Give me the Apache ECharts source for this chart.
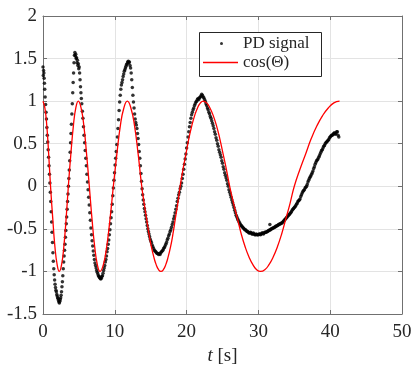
<!DOCTYPE html>
<html>
<head>
<meta charset="utf-8">
<script src="https://cdn.jsdelivr.net/npm/echarts@6/dist/echarts.min.js"></script>
<style>
  html, body { margin: 0; padding: 0; background: #fff; }
  #main { width: 416px; height: 374px; }
</style>
</head>
<body>
<div id="main"></div>
<script>
// axis ticks
var xTicks = [0, 10, 20, 30, 40, 50];
var yTicks = [-1.5, -1, -0.5, 0, 0.5, 1, 1.5, 2];

// measured photodiode signal, [t, value]
var pdSignal = [
  [0.00,1.40],[0.04,1.30],[0.08,1.36],[0.12,1.33],[0.16,1.27],[0.20,1.21],[0.24,1.14],[0.30,1.05],
  [0.36,0.96],[0.42,0.87],[0.48,0.79],[0.54,0.69],[0.60,0.60],[0.66,0.52],[0.72,0.43],[0.78,0.34],
  [0.84,0.24],[0.90,0.14],[0.96,0.04],[1.02,-0.07],[1.08,-0.18],[1.14,-0.30],[1.20,-0.42],[1.26,-0.54],
  [1.32,-0.66],[1.38,-0.78],[1.44,-0.88],[1.50,-0.97],[1.56,-1.04],[1.62,-1.10],[1.68,-1.15],[1.74,-1.19],
  [1.80,-1.22],[1.86,-1.24],[1.92,-1.27],[1.98,-1.29],[2.04,-1.31],[2.10,-1.32],[2.16,-1.34],[2.22,-1.36],
  [2.28,-1.37],[2.34,-1.35],[2.40,-1.33],[2.46,-1.31],[2.52,-1.28],[2.58,-1.24],[2.64,-1.18],[2.70,-1.12],
  [2.76,-1.05],[2.82,-0.97],[2.88,-0.89],[2.94,-0.82],[3.00,-0.75],[3.06,-0.68],[3.12,-0.60],[3.18,-0.52],
  [3.24,-0.44],[3.30,-0.36],[3.36,-0.27],[3.42,-0.18],[3.48,-0.09],[3.54,0.00],[3.60,0.09],[3.66,0.19],
  [3.72,0.30],[3.78,0.40],[3.84,0.51],[3.90,0.62],[3.96,0.73],[4.02,0.85],[4.08,0.97],[4.14,1.10],
  [4.20,1.22],[4.26,1.33],[4.32,1.45],[4.38,1.54],[4.44,1.57],[4.50,1.53],[4.56,1.55],[4.62,1.50],
  [4.68,1.51],[4.74,1.45],[4.80,1.48],[4.86,1.42],[4.92,1.44],[4.98,1.38],[5.04,1.40],[5.10,1.33],
  [5.16,1.25],[5.22,1.17],[5.28,1.10],[5.34,1.03],[5.40,0.97],[5.48,0.88],[5.56,0.80],[5.64,0.70],
  [5.72,0.60],[5.80,0.51],[5.88,0.42],[5.96,0.33],[6.04,0.24],[6.12,0.14],[6.20,0.05],[6.28,-0.04],
  [6.36,-0.13],[6.44,-0.22],[6.52,-0.31],[6.60,-0.40],[6.68,-0.49],[6.76,-0.57],[6.84,-0.64],[6.92,-0.70],
  [7.00,-0.76],[7.08,-0.81],[7.16,-0.86],[7.24,-0.90],[7.32,-0.93],[7.40,-0.96],[7.48,-0.99],[7.56,-1.01],
  [7.64,-1.03],[7.72,-1.05],[7.80,-1.06],[7.88,-1.07],[7.96,-1.08],[8.04,-1.09],[8.12,-1.08],[8.20,-1.06],
  [8.28,-1.05],[8.36,-1.02],[8.44,-0.99],[8.52,-0.96],[8.60,-0.93],[8.68,-0.89],[8.76,-0.86],[8.84,-0.82],
  [8.92,-0.77],[9.00,-0.73],[9.08,-0.68],[9.16,-0.63],[9.24,-0.57],[9.32,-0.51],[9.40,-0.44],[9.48,-0.37],
  [9.56,-0.30],[9.64,-0.21],[9.72,-0.11],[9.80,-0.02],[9.88,0.07],[9.96,0.16],[10.04,0.25],[10.12,0.33],
  [10.20,0.41],[10.28,0.49],[10.36,0.58],[10.44,0.68],[10.52,0.78],[10.60,0.89],[10.68,0.99],[10.76,1.07],
  [10.84,1.14],[10.92,1.19],[11.00,1.22],[11.08,1.25],[11.16,1.29],[11.24,1.32],[11.32,1.35],[11.40,1.37],
  [11.48,1.39],[11.56,1.41],[11.64,1.43],[11.72,1.44],[11.80,1.46],[11.88,1.47],[11.96,1.45],[12.04,1.46],
  [12.12,1.42],[12.20,1.39],[12.28,1.33],[12.36,1.25],[12.44,1.16],[12.52,1.07],[12.60,0.99],[12.68,0.92],
  [12.76,0.85],[12.84,0.79],[12.92,0.75],[13.00,0.72],[13.08,0.68],[13.16,0.62],[13.24,0.56],[13.32,0.49],
  [13.40,0.41],[13.48,0.33],[13.56,0.24],[13.64,0.15],[13.72,0.06],[13.80,-0.03],[13.88,-0.10],[13.96,-0.16],
  [14.04,-0.21],[14.12,-0.26],[14.20,-0.30],[14.28,-0.34],[14.36,-0.38],[14.44,-0.42],[14.52,-0.46],[14.60,-0.50],
  [14.68,-0.53],[14.76,-0.56],[14.84,-0.59],[14.92,-0.62],[15.00,-0.64],[15.10,-0.66],[15.20,-0.69],[15.30,-0.71],
  [15.40,-0.73],[15.50,-0.75],[15.60,-0.76],[15.70,-0.77],[15.80,-0.78],[15.90,-0.79],[16.00,-0.79],[16.10,-0.80],
  [16.20,-0.79],[16.30,-0.80],[16.40,-0.78],[16.50,-0.77],[16.60,-0.76],[16.70,-0.75],[16.80,-0.73],[16.90,-0.72],
  [17.00,-0.70],[17.10,-0.68],[17.20,-0.66],[17.30,-0.63],[17.40,-0.61],[17.50,-0.58],[17.60,-0.56],[17.70,-0.53],
  [17.80,-0.51],[17.90,-0.48],[18.00,-0.45],[18.10,-0.42],[18.20,-0.38],[18.30,-0.35],[18.40,-0.31],[18.50,-0.27],
  [18.60,-0.23],[18.70,-0.18],[18.80,-0.14],[18.90,-0.10],[19.00,-0.07],[19.10,-0.03],[19.20,0.00],[19.30,0.04],
  [19.40,0.09],[19.50,0.14],[19.60,0.20],[19.70,0.26],[19.80,0.32],[19.90,0.38],[20.00,0.45],[20.10,0.51],
  [20.20,0.58],[20.30,0.64],[20.40,0.70],[20.50,0.75],[20.60,0.80],[20.70,0.84],[20.80,0.87],[20.90,0.90],
  [21.00,0.92],[21.10,0.95],[21.20,0.97],[21.30,0.99],[21.40,1.00],[21.50,1.02],[21.60,1.03],[21.70,1.02],
  [21.80,1.04],[21.90,1.05],[22.00,1.06],[22.10,1.08],[22.20,1.07],[22.30,1.05],[22.40,1.04],[22.50,1.02],
  [22.60,1.00],[22.70,0.97],[22.80,0.95],[22.90,0.92],[23.00,0.90],[23.10,0.87],[23.20,0.85],[23.30,0.82],
  [23.40,0.80],[23.50,0.77],[23.60,0.74],[23.70,0.71],[23.80,0.68],[23.90,0.64],[24.00,0.61],[24.10,0.57],
  [24.20,0.54],[24.30,0.50],[24.40,0.47],[24.50,0.43],[24.60,0.40],[24.70,0.37],[24.80,0.34],[24.90,0.30],
  [25.00,0.27],[25.10,0.23],[25.20,0.20],[25.30,0.16],[25.40,0.13],[25.50,0.10],[25.60,0.07],[25.70,0.03],
  [25.80,0.00],[25.90,-0.04],[26.00,-0.07],[26.10,-0.10],[26.20,-0.13],[26.30,-0.16],[26.40,-0.19],[26.50,-0.22],
  [26.60,-0.25],[26.70,-0.28],[26.80,-0.31],[26.90,-0.34],[27.00,-0.36],[27.10,-0.38],[27.20,-0.40],[27.30,-0.42],
  [27.40,-0.43],[27.50,-0.45],[27.60,-0.46],[27.70,-0.47],[27.80,-0.48],[27.90,-0.49],[28.00,-0.50],[28.10,-0.51],
  [28.20,-0.51],[28.30,-0.52],[28.40,-0.53],[28.50,-0.53],[28.60,-0.54],[28.70,-0.55],[28.80,-0.55],[28.90,-0.54],
  [29.00,-0.55],[29.10,-0.56],[29.20,-0.56],[29.30,-0.55],[29.40,-0.56],[29.50,-0.57],[29.60,-0.57],[29.70,-0.56],
  [29.80,-0.57],[29.90,-0.57],[30.00,-0.57],[30.10,-0.56],[30.20,-0.56],[30.30,-0.57],[30.40,-0.56],[30.50,-0.55],
  [30.60,-0.55],[30.70,-0.56],[30.80,-0.55],[30.90,-0.54],[31.00,-0.54],[31.10,-0.54],[31.20,-0.53],[31.30,-0.53],
  [31.40,-0.52],[31.50,-0.52],[31.60,-0.51],[31.70,-0.51],[31.80,-0.50],[31.90,-0.50],[32.00,-0.49],[32.10,-0.49],
  [32.20,-0.48],[32.30,-0.48],[32.40,-0.47],[32.50,-0.47],[32.60,-0.46],[32.70,-0.46],[32.80,-0.45],[32.90,-0.45],
  [33.00,-0.44],[33.10,-0.44],[33.20,-0.43],[33.30,-0.43],[33.40,-0.42],[33.50,-0.41],[33.60,-0.40],[33.70,-0.39],
  [33.80,-0.38],[33.90,-0.37],[34.00,-0.36],[34.10,-0.35],[34.20,-0.34],[34.30,-0.33],[34.40,-0.32],[34.50,-0.31],
  [34.60,-0.30],[34.70,-0.28],[34.80,-0.27],[34.90,-0.26],[35.00,-0.25],[35.10,-0.24],[35.20,-0.23],[35.30,-0.21],
  [35.40,-0.20],[35.50,-0.18],[35.60,-0.17],[35.70,-0.16],[35.80,-0.15],[35.90,-0.12],[36.00,-0.10],[36.10,-0.08],
  [36.20,-0.06],[36.30,-0.05],[36.40,-0.04],[36.50,-0.02],[36.60,-0.01],[36.70,0.00],[36.80,0.02],[36.90,0.05],
  [37.00,0.07],[37.10,0.09],[37.20,0.11],[37.30,0.12],[37.40,0.14],[37.50,0.16],[37.60,0.18],[37.70,0.21],
  [37.80,0.23],[37.90,0.26],[38.00,0.28],[38.10,0.30],[38.20,0.31],[38.30,0.32],[38.40,0.34],[38.50,0.36],
  [38.60,0.38],[38.70,0.40],[38.80,0.42],[38.90,0.43],[39.00,0.45],[39.10,0.47],[39.20,0.48],[39.30,0.50],
  [39.40,0.51],[39.50,0.52],[39.60,0.53],[39.70,0.54],[39.80,0.55],[39.90,0.57],[40.00,0.58],[40.10,0.59],
  [40.20,0.60],[40.30,0.60],[40.40,0.61],[40.50,0.62],[40.60,0.63],[40.70,0.61],[40.80,0.62],[40.90,0.64],
  [41.00,0.64],[41.10,0.60],[41.20,0.58],[31.60,-0.45]
];

// cos(Theta) model curve, [t, value]
var cosTheta = [
  [0.00,1.00],[0.26,0.92],[0.53,0.71],[0.79,0.38],[1.05,0.00],[1.36,-0.38],[1.66,-0.71],[1.97,-0.92],
  [2.27,-1.00],[2.59,-0.92],[2.90,-0.71],[3.22,-0.38],[3.53,0.00],[3.88,0.38],[4.23,0.71],[4.57,0.92],
  [4.92,1.00],[5.30,0.92],[5.69,0.71],[6.07,0.38],[6.45,0.00],[6.82,-0.38],[7.20,-0.71],[7.57,-0.92],
  [7.94,-1.00],[8.41,-0.92],[8.87,-0.71],[9.34,-0.38],[9.80,0.00],[10.29,0.38],[10.77,0.71],[11.26,0.92],
  [11.74,1.00],[12.24,0.92],[12.75,0.71],[13.25,0.38],[13.75,0.00],
  [14.09,-0.20],[14.42,-0.38],[14.76,-0.56],[15.09,-0.71],[15.43,-0.83],[15.76,-0.92],[16.10,-0.98],[16.43,-1.00],
  [16.76,-0.98],[17.10,-0.92],[17.43,-0.83],[17.77,-0.71],[18.10,-0.56],[18.43,-0.38],[18.77,-0.20],[19.10,0.00],
  [19.50,0.20],[19.91,0.38],[20.31,0.56],[20.72,0.71],[21.12,0.83],[21.52,0.92],[21.93,0.98],[22.33,1.00],
  [22.79,0.98],[23.25,0.92],[23.71,0.83],[24.17,0.71],[24.62,0.56],[25.08,0.38],[25.54,0.20],[26.00,0.00],
  [26.54,-0.20],[27.08,-0.38],[27.61,-0.56],[28.15,-0.71],[28.69,-0.83],[29.23,-0.92],[29.76,-0.98],[30.30,-1.00],
  [30.89,-0.98],[31.48,-0.92],[32.06,-0.83],[32.65,-0.71],[33.24,-0.56],[33.83,-0.38],[34.41,-0.20],[35.00,0.00],
  [35.79,0.20],[36.58,0.38],[37.36,0.56],[38.15,0.71],[38.94,0.83],[39.73,0.92],[40.51,0.98],[41.30,1.00]
];

var serif = '"Liberation Serif", "DejaVu Serif", serif';
var axisColor = '#707070';
var textColor = '#262626';

var myChart = echarts.init(document.getElementById('main'));

var boxAxis = {
  axisLine: { show: true, onZero: false, lineStyle: { color: axisColor, width: 1 } },
  axisTick: { show: true, inside: true, length: 4, lineStyle: { color: axisColor } },
  axisLabel: { show: false },
  splitLine: { show: false }
};

var legendText = { fontFamily: serif, fontSize: 17, lineHeight: 17, color: textColor };

var option = {
  backgroundColor: '#fff',
  animation: false,
  grid: { left: 43, top: 16, right: 14, bottom: 60, containLabel: false, outerBoundsMode: 'none' },
  legend: [
    {
      left: 220, top: 35, orient: 'vertical', padding: 0,
      itemWidth: 3, itemHeight: 3, itemGap: 0,
      icon: 'circle',
      textStyle: Object.assign({ padding: [0, 0, 0, 15] }, legendText),
      data: ['PD signal']
    },
    {
      left: 203, top: 54, orient: 'vertical', padding: 0,
      itemWidth: 35, itemHeight: 14, itemGap: 0,
      textStyle: legendText,
      data: [{ name: 'cos(Θ)', icon: 'path://M0,6.4L35,6.4L35,7.7L0,7.7Z' }]
    }
  ],
  graphic: [{
    type: 'rect', left: 199, top: 32, z: 3,
    shape: { width: 122, height: 44 },
    style: { fill: '#fff', stroke: '#262626', lineWidth: 1 }
  }],
  xAxis: [
    {
      type: 'value', min: xTicks[0], max: xTicks[xTicks.length - 1], interval: xTicks[1] - xTicks[0],
      position: 'bottom',
      name: '{it|t} [s]', nameLocation: 'middle', nameGap: 32,
      nameTextStyle: {
        fontFamily: serif, fontSize: 19, color: textColor,
        rich: { it: { fontFamily: serif, fontSize: 19, fontStyle: 'italic', color: textColor } }
      },
      axisLine: { show: true, onZero: false, lineStyle: { color: axisColor, width: 1 } },
      axisTick: { show: true, inside: true, length: 4, lineStyle: { color: axisColor } },
      axisLabel: { margin: 9, fontFamily: serif, fontSize: 19, color: textColor },
      splitLine: { show: true, lineStyle: { color: '#e3e3e3', width: 1 } }
    },
    Object.assign({ type: 'value', min: xTicks[0], max: xTicks[xTicks.length - 1], interval: xTicks[1] - xTicks[0], position: 'top' }, boxAxis)
  ],
  yAxis: [
    {
      type: 'value', min: yTicks[0], max: yTicks[yTicks.length - 1], interval: yTicks[1] - yTicks[0],
      position: 'left',
      axisLine: { show: true, onZero: false, lineStyle: { color: axisColor, width: 1 } },
      axisTick: { show: true, inside: true, length: 4, lineStyle: { color: axisColor } },
      axisLabel: { margin: 6, fontFamily: serif, fontSize: 19, color: textColor },
      splitLine: { show: true, lineStyle: { color: '#e3e3e3', width: 1 } }
    },
    Object.assign({ type: 'value', min: yTicks[0], max: yTicks[yTicks.length - 1], interval: yTicks[1] - yTicks[0], position: 'right' }, boxAxis)
  ],
  series: [
    {
      name: 'PD signal',
      type: 'scatter',
      symbol: 'circle',
      symbolSize: 3.5,
      itemStyle: { color: '#000' },
      data: pdSignal,
      z: 2
    },
    {
      name: 'cos(Θ)',
      type: 'line',
      smooth: 0.5,
      showSymbol: false,
      symbol: 'none',
      lineStyle: { color: '#ff0000', width: 1.3 },
      itemStyle: { color: '#ff0000' },
      data: cosTheta,
      z: 3
    }
  ]
};

myChart.setOption(option);
</script>
</body>
</html>
